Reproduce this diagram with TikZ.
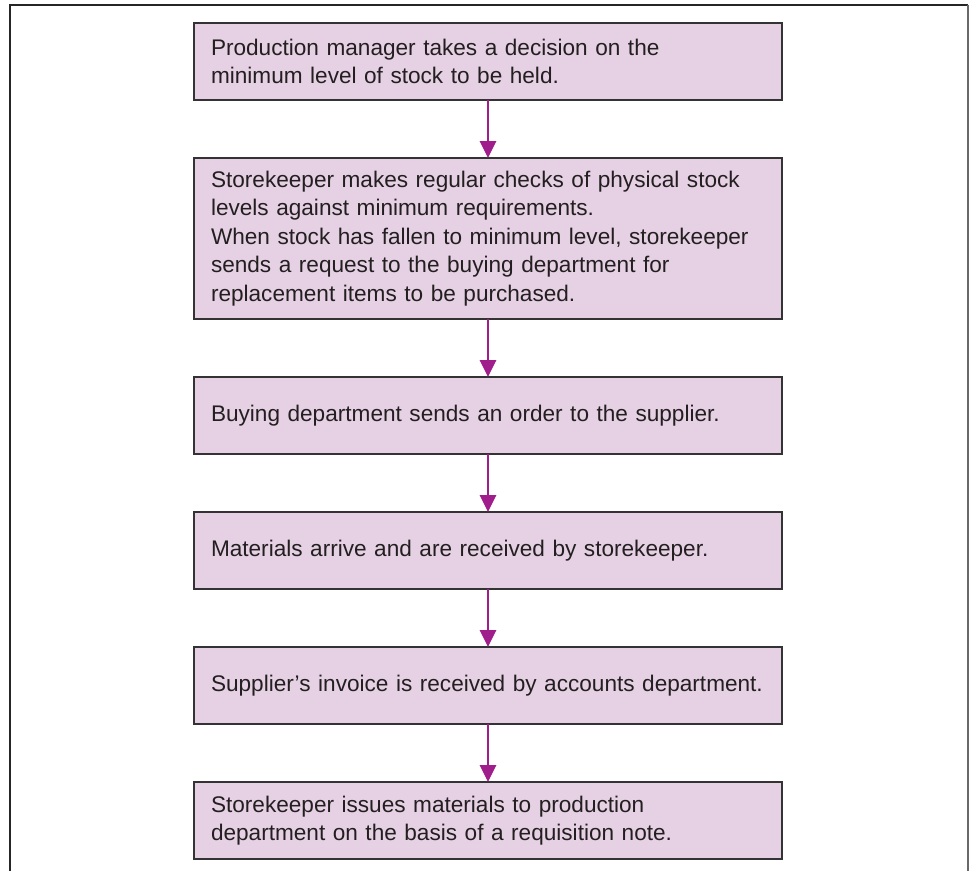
\documentclass[tikz,border=0pt]{standalone}
\usepackage{fontspec}
\setmainfont{Liberation Sans}
\usetikzlibrary{positioning,arrows.meta}

\definecolor{boxpink}{RGB}{230,208,228}
\definecolor{arrowmag}{RGB}{160,30,140}
\definecolor{framegray}{RGB}{105,105,105}
\definecolor{inkgray}{RGB}{35,31,32}

\tikzset{
  stage/.style={draw=black!80, line width=1.3pt, fill=boxpink,
    text width=554pt, inner xsep=17pt, inner ysep=0pt, align=left,
    minimum height=77pt, outer sep=0pt, text=inkgray,
    font=\fontsize{22.6}{28.5}\selectfont},
  flowarrow/.style={draw=arrowmag, line width=2.8pt,
    -{Triangle[width=16pt,length=17pt]}}
}

\begin{document}
\begin{tikzpicture}[x=1pt, y=1pt, node distance=58pt]
	\useasboundingbox (0,0) rectangle (970,-871);

	% frame, open at the bottom
	\draw[line width=1.4pt, black!85] (10,-871) -- (10,-5) -- (968,-5);
	\draw[line width=2.2pt, framegray] (968,-5) -- (968,-871);

	\node[stage, anchor=north] (decide) at (488,-23)
	    {Production manager takes a decision on the\\
	     minimum level of stock to be held.};
	\node[stage, below=of decide, minimum height=161pt] (check)
	    {Storekeeper makes regular checks of physical stock\\
	     levels against minimum requirements.\\
	     When stock has fallen to minimum level, storekeeper\\
	     sends a request to the buying department for\\
	     replacement items to be purchased.};
	\node[stage, below=of check] (order)
	    {Buying department sends an order to the supplier.};
	\node[stage, below=of order] (arrive)
	    {Materials arrive and are received by storekeeper.};
	\node[stage, below=of arrive] (invoice)
	    {Supplier’s invoice is received by accounts department.};
	\node[stage, below=of invoice] (issue)
	    {Storekeeper issues materials to production\\
	     department on the basis of a requisition note.};

	\draw[flowarrow] (decide) -- (check);
	\draw[flowarrow] (check) -- (order);
	\draw[flowarrow] (order) -- (arrive);
	\draw[flowarrow] (arrive) -- (invoice);
	\draw[flowarrow] (invoice) -- (issue);
\end{tikzpicture}
\end{document}
